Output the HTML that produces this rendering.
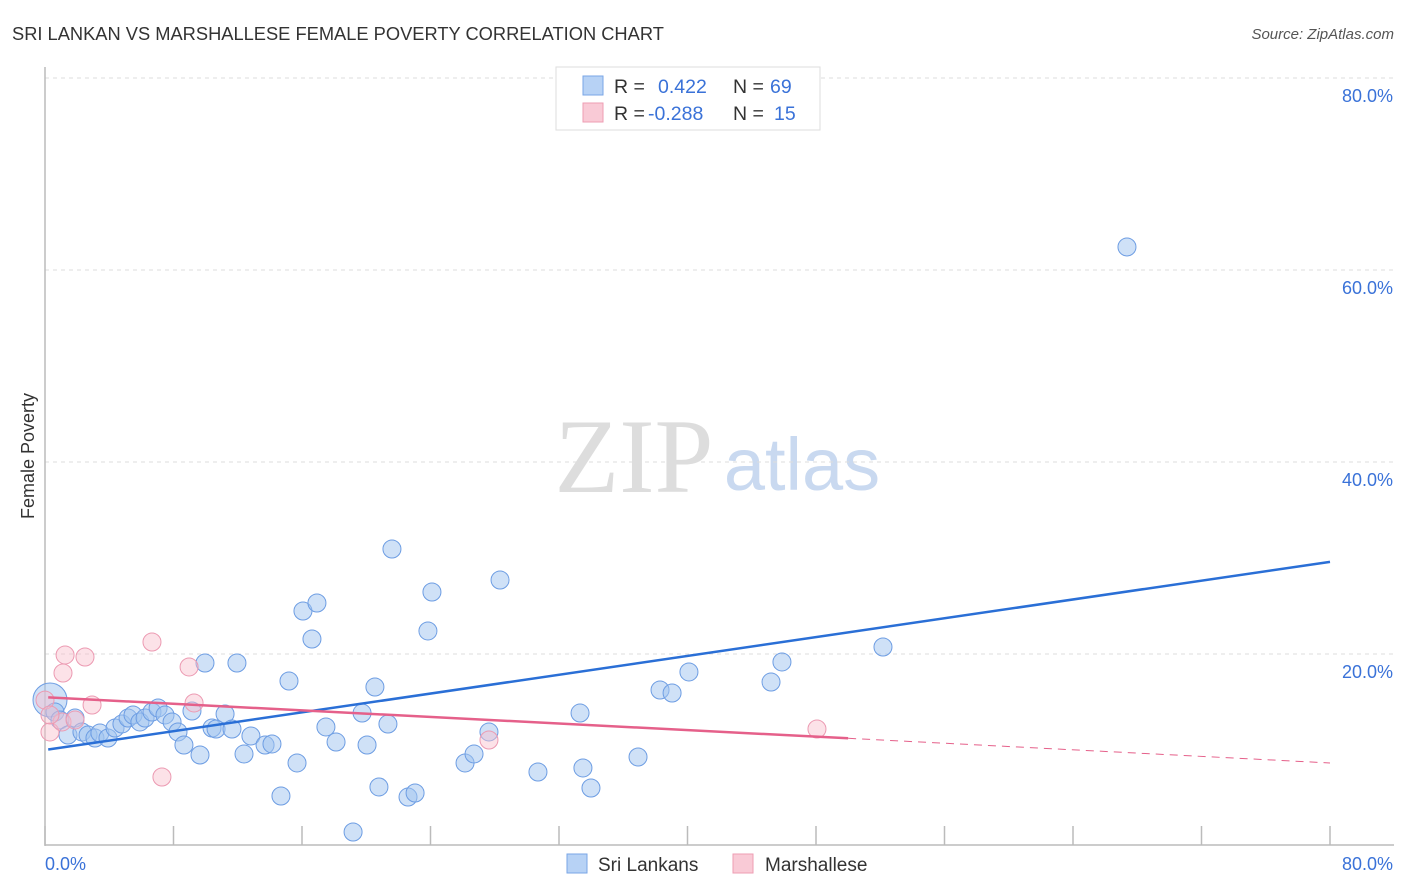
<!DOCTYPE html>
<html><head><meta charset="utf-8"><style>
body{margin:0;background:#fff;font-family:"Liberation Sans",sans-serif}
svg{display:block}
</style></head><body>
<svg width="1406" height="892" xmlns="http://www.w3.org/2000/svg">
<text x="12" y="40" font-size="18.3" fill="#333">SRI LANKAN VS MARSHALLESE FEMALE POVERTY CORRELATION CHART</text>
<text x="1394" y="39" font-size="15" fill="#555" text-anchor="end" font-style="italic">Source: ZipAtlas.com</text>
<text x="634" y="492" font-size="106" fill="#ddd" font-family="Liberation Serif" text-anchor="middle">ZIP</text>
<text x="802" y="490" font-size="74" fill="#c9d9f0" text-anchor="middle">atlas</text>
<g id="grid"></g>
<g id="axes"></g>
<g id="points"></g>
<g id="lines"></g>
<text transform="translate(34,456) rotate(-90)" font-size="18" fill="#333" text-anchor="middle">Female Poverty</text>
<text x="45" y="870" font-size="18" fill="#3a72d8">0.0%</text>
<text x="1393" y="870" font-size="18" fill="#3a72d8" text-anchor="end">80.0%</text>
<g>
<rect x="556" y="67" width="264" height="63" fill="#fff" stroke="#ddd"/>
<rect x="583" y="76" width="20" height="19" fill="#b7d2f5" stroke="#7aa6e6"/>
<rect x="583" y="103" width="20" height="19" fill="#f9cad6" stroke="#ee9db3"/>
<text x="614" y="93" font-size="19.5" fill="#333">R = <tspan x="658" fill="#3a72d8">0.422</tspan><tspan x="733">N = </tspan><tspan x="770" fill="#3a72d8">69</tspan></text>
<text x="614" y="120" font-size="19.5" fill="#333">R = <tspan x="648" fill="#3a72d8">-0.288</tspan><tspan x="733">N = </tspan><tspan x="774" fill="#3a72d8">15</tspan></text>
</g>
<g>
<rect x="567" y="854" width="20" height="19" fill="#b7d2f5" stroke="#7aa6e6"/>
<text x="598" y="871" font-size="19" fill="#333">Sri Lankans</text>
</g>
<g>
<rect x="733" y="854" width="20" height="19" fill="#f9cad6" stroke="#ee9db3"/>
<text x="765" y="871" font-size="19" fill="#333">Marshallese</text>
</g>
</svg>
<script>
const yTicks=[20,40,60,80];
const yTickLabels=["20.0%","40.0%","60.0%","80.0%"];
const xTicks=[0,8,16,24,32,40,48,56,64,72,80];
const blueX=[0.31,0.62,0.93,1.43,1.87,2.30,2.68,3.11,3.42,3.92,4.36,4.79,5.17,5.48,5.91,6.23,6.66,7.04,7.47,7.91,8.28,8.65,9.15,9.65,9.96,10.40,10.65,11.21,11.64,11.95,12.39,12.82,13.70,14.13,14.69,15.19,15.69,16.06,16.62,16.93,17.49,18.12,19.18,19.74,20.05,20.54,20.79,21.35,21.60,22.60,23.04,23.84,24.09,26.15,26.71,27.64,28.33,30.69,33.31,33.49,33.99,36.92,38.29,39.04,40.09,45.20,45.88,52.17,67.36];
const blueY=[15.21,13.96,13.13,11.56,13.33,11.88,11.56,11.25,11.77,11.25,12.29,12.71,13.33,13.65,12.92,13.33,13.96,14.38,13.65,12.92,11.88,10.52,14.06,9.48,19.06,12.29,12.19,13.75,12.19,19.06,9.58,11.46,10.52,10.63,5.21,17.19,8.65,24.48,21.56,25.31,12.40,10.83,1.46,13.85,10.52,16.56,6.15,12.71,30.94,5.10,5.52,22.40,26.46,8.65,9.58,11.88,27.71,7.71,13.85,8.13,6.04,9.27,16.25,15.94,18.13,17.08,19.17,20.73,62.40];
const pinkX=[0,0.31,1.12,1.06,1.25,1.87,2.49,2.93,6.66,7.28,8.97,9.28,27.64,48.06,0.31];
const pinkY=[15.2,11.88,18.02,12.92,19.9,13.13,19.69,14.69,21.25,7.19,18.65,14.9,11.04,12.19,13.65];
const blueTrend=[10.0,29.6];
const pinkTrend=[15.5,8.65];
const pinkSolidEnd=50;
const X=v=>45+v/80*1285, Y=v=>846-v/20*192;
const NS="http://www.w3.org/2000/svg";
function mk(t,a,p){const e=document.createElementNS(NS,t);for(const k in a)e.setAttribute(k,a[k]);document.getElementById(p).appendChild(e);return e;}
yTicks.forEach((v,i)=>{
 const l=mk('line',{x1:45,x2:1394,y1:Y(v),y2:Y(v),stroke:'#ddd','stroke-dasharray':'4,4'},'grid');
 
 
 const t=mk('text',{x:1393,y:Y(v)+24,'font-size':18,fill:'#3a72d8','text-anchor':'end'},'grid');
 t.textContent=yTickLabels[i];
 
 
});
const ya=mk('line',{x1:45,x2:45,y1:67,y2:846,stroke:'#bbb','stroke-width':1.5},'axes');


const xa=mk('line',{x1:45,x2:1394,y1:845,y2:845,stroke:'#bbb','stroke-width':1.5},'axes');


xTicks.forEach(v=>{
 const t=mk('line',{x1:X(v),x2:X(v),y1:826,y2:845,stroke:'#bbb','stroke-width':1.5},'axes');
 
 
});
blueX.forEach((x,i)=>{
 const big=i===0;
 const c=mk('circle',{cx:X(x),cy:Y(blueY[i]),r:big?17:9,fill:'rgba(160,195,240,0.5)',stroke:'#6d9de3','stroke-width':1},'points');
 
 
});
pinkX.forEach((x,i)=>{
 const c=mk('circle',{cx:X(x),cy:Y(pinkY[i]),r:9,fill:'rgba(248,190,205,0.45)',stroke:'#ec9ab2','stroke-width':1},'points');
 
 
});
const bl=mk('line',{x1:X(0.2),y1:Y(blueTrend[0]+(blueTrend[1]-blueTrend[0])*0.2/80),x2:X(80),y2:Y(blueTrend[1]),stroke:'#2a6fd6','stroke-width':2.5},'lines');


const pv=x=>pinkTrend[0]+(pinkTrend[1]-pinkTrend[0])*x/80;
const pl=mk('line',{x1:X(0.2),y1:Y(pv(0.2)),x2:X(pinkSolidEnd),y2:Y(pv(pinkSolidEnd)),stroke:'#e5608a','stroke-width':2.5},'lines');


const pd=mk('line',{x1:X(pinkSolidEnd),y1:Y(pv(pinkSolidEnd)),x2:X(80),y2:Y(pv(80)),stroke:'#e5608a','stroke-width':1,'stroke-dasharray':'8,6'},'lines');


</script>
</body></html>
